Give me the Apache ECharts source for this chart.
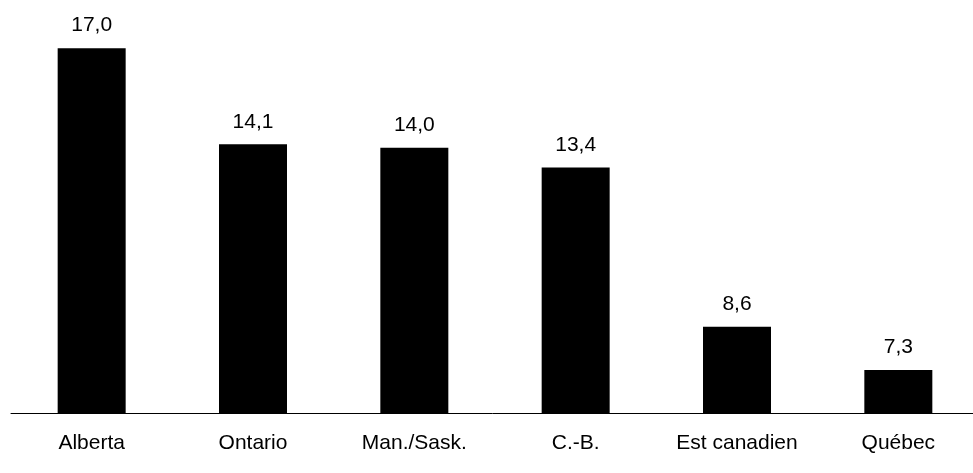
<!DOCTYPE html>
<html><head><meta charset="utf-8">
<script src="https://cdn.jsdelivr.net/npm/echarts@6/dist/echarts.min.js"></script>
<style>html,body{margin:0;padding:0;background:#fff}#c{width:973px;height:473px}</style>
</head><body><div id="c"></div>
<script>
const categories = ["Alberta", "Ontario", "Man./Sask.", "C.-B.", "Est canadien", "Québec"];
const values = [17.0, 14.1, 14.0, 13.4, 8.6, 7.3];

const chart = echarts.init(document.getElementById('c'), null, {renderer: 'canvas'});
chart.setOption({
  animation: false,
  backgroundColor: '#ffffff',
  grid: {left: 11, right: -6, top: 15, bottom: 60, containLabel: false, outerBoundsMode: 'none'},
  xAxis: {
    type: 'category',
    data: categories,
    axisLine: {show: true, lineStyle: {color: '#000', width: 1}},
    axisTick: {show: false},
    axisLabel: {color: '#000', fontSize: 21, fontFamily: 'Liberation Sans, Arial, sans-serif', margin: 20}
  },
  yAxis: {
    type: 'value', min: 6, max: 18,
    show: false, splitLine: {show: false}
  },
  series: [{
    type: 'bar',
    data: values,
    barWidth: 68,
    itemStyle: {color: '#000'},
    label: {
      show: true, position: 'top', distance: 12,
      color: '#000', fontSize: 21, fontFamily: 'Liberation Sans, Arial, sans-serif',
      formatter: p => p.value.toFixed(1).replace('.', ',')
    }
  }]
});
</script></body></html>
